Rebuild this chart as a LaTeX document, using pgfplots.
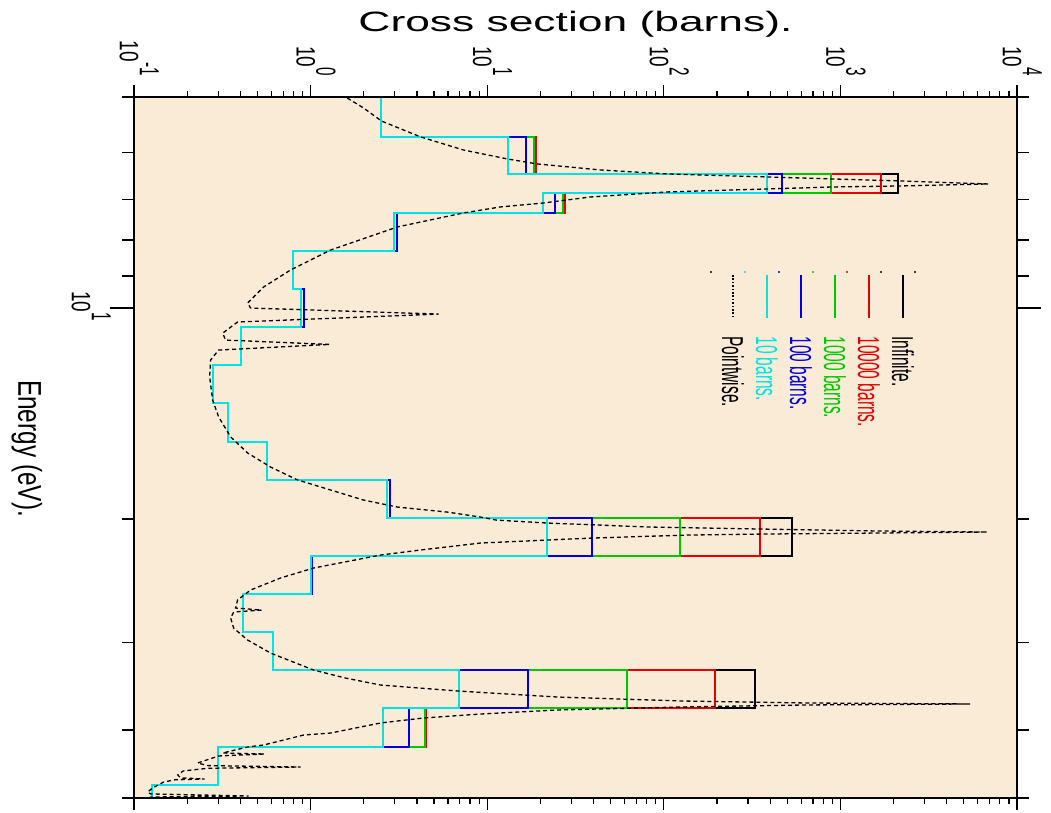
\documentclass[border=0pt]{standalone}
\usepackage{pgfplots}
\pgfplotsset{compat=1.18}
\usepackage{pgfplotstable}
\usepackage{graphicx}
\usepackage{fontspec}
\setmainfont{Liberation Sans}

\definecolor{bg}{RGB}{250,235,215}
\definecolor{ccyan}{RGB}{0,228,228}
\definecolor{cblue}{RGB}{0,0,225}
\definecolor{cgreen}{RGB}{0,200,0}
\definecolor{cred}{RGB}{230,0,0}

% multigroup steps: E (eV) and cross sections (barns) for 10, 100, 1000, 10000 barns and infinite dilution
\pgfplotstableread{
E      c      b      g      r      k
4.8    1.248  1.248  1.248  1.248  1.248
5.0    1.248  1.248  1.248  1.248  1.248
5.0    2.52   2.52   2.52   2.52   2.52
5.70   2.52   2.52   2.52   2.52   2.52
5.70   13.08  16.62  18.45  18.94  18.94
6.438  13.08  16.62  18.45  18.94  18.94
6.438  386    469    888    1704   2127
6.853  386    469    888    1704   2127
6.853  20.64  24.35  26.9   27.75  27.75
7.318  20.64  24.35  26.9   27.75  27.75
7.318  2.95   3.10   3.10   3.10   3.10
8.292  2.95   3.10   3.10   3.10   3.10
8.292  0.80   0.80   0.80   0.80   0.80
9.395  0.80   0.80   0.80   0.80   0.80
9.395  0.88   0.915  0.915  0.915  0.915
10.645 0.88   0.915  0.915  0.915  0.915
10.645 0.402  0.402  0.402  0.402  0.402
12.06  0.402  0.402  0.402  0.402  0.402
12.06  0.279  0.279  0.279  0.279  0.279
13.66  0.279  0.279  0.279  0.279  0.279
13.66  0.339  0.339  0.339  0.339  0.339
15.53  0.339  0.339  0.339  0.339  0.339
15.53  0.564  0.564  0.564  0.564  0.564
17.59  0.564  0.564  0.564  0.564  0.564
17.59  2.72   2.80   2.80   2.80   2.80
19.93  2.72   2.80   2.80   2.80   2.80
19.93  21.7   39.4   124    352    534
22.58  21.7   39.4   124    352    534
22.58  1.00   1.022  1.022  1.022  1.022
25.58  1.00   1.022  1.022  1.022  1.022
25.58  0.412  0.412  0.412  0.412  0.412
28.99  0.412  0.412  0.412  0.412  0.412
28.99  0.609  0.609  0.609  0.609  0.609
32.84  0.609  0.609  0.609  0.609  0.609
32.84  6.88   17.1   62.2   196    330
37.21  6.88   17.1   62.2   196    330
37.21  2.56   3.59   4.42   4.53   4.53
42.29  2.56   3.59   4.42   4.53   4.53
42.29  0.298  0.298  0.298  0.298  0.298
47.91  0.298  0.298  0.298  0.298  0.298
47.91  0.126  0.126  0.126  0.126  0.126
51.0   0.126  0.126  0.126  0.126  0.126
}\steps

% pointwise cross section
\pgfplotstableread{
s      E
1.50   4.95
1.578  5.000
1.994  5.183
2.522  5.411
4.194  5.700
7.343  5.951
13.03  6.129
19.26  6.230
43.78  6.354
104.8  6.438
385.8  6.502
911.6  6.545
2183   6.588
6871   6.653
2183   6.697
911.6  6.719
385.8  6.763
104.8  6.830
38.42  6.944
20.83  7.082
11.89  7.175
7.343  7.318
3.107  7.662
1.298  8.265
0.770  8.826
0.542  9.333
0.440  9.835
0.4575 10.00
5.302  10.20
0.386  10.47
0.3177 10.86
0.3304 11.11
1.281  11.27
0.3015 11.48
0.2716 11.86
0.2682 12.54
0.2789 13.53
0.3015 14.30
0.3526 15.27
0.440  16.10
0.5937 16.86
0.8443 17.59
1.298  18.18
1.994  18.79
3.107  19.23
5.962  19.55
9.165  19.87
11.29  20.07
21.65  20.26
81.79  20.53
366.2  20.67
1617   20.80
6781   20.87
1617   20.94
366.2  21.01
136.0  21.08
38.93  21.29
21.65  21.43
9.165  21.64
4.194  22.14
2.490  22.51
1.040  23.49
0.6766 24.27
0.4575 25.25
0.386  26.09
0.376  26.79
0.528  26.97
0.367  27.14
0.3526 27.68
0.3666 28.61
0.440  29.76
0.5937 31.06
1.040  32.84
1.578  33.72
2.490  34.50
6.879  35.19
24.99  35.89
127.4  36.36
641.3  36.60
5434   36.72
641.3  36.84
127.4  37.08
24.99  37.45
9.165  37.95
4.360  38.45
2.490  39.08
1.298  40.39
0.9128 40.66
0.542  42.01
0.440  42.29
0.3177 43.13
0.5491 43.27
0.3015 43.55
0.2293 44.57
0.2613 44.95
0.8778 45.16
0.2613 45.35
0.190  45.75
0.1768 46.36
0.1838 46.80
0.2513 46.97
0.170  47.10
0.1473 47.44
0.1276 48.38
0.1195 49.02
0.1243 49.34
0.4458 49.67
0.1243 49.84
0.1164 50.33
}\pointwise

\newcommand{\tp}[1]{10\raisebox{7.1pt}{\scalebox{1}[1.3]{\fontsize{7.6}{8}\selectfont #1}}}
\newcommand{\tlab}[1]{\scalebox{1}[1.4]{\fontsize{9.5}{10}\selectfont\tp{#1}}}
\newcommand{\leg}[2]{\scalebox{1}[1.95]{\fontsize{7.75}{8}\selectfont\color{#1}#2}}

\begin{document}
\begin{tikzpicture}
\useasboundingbox (-287.75pt,-182.75pt) rectangle (237.75pt,223.75pt);
\begin{axis}[
  at={(0pt,0pt)}, anchor=center,
  scale only axis, width=441.5pt, height=350.5pt,
  xmode=log, ymode=log,
  xmin=0.1, xmax=10000, ymin=5, ymax=50,
  y dir=reverse,
  axis background/.style={fill=bg},
  axis line style={draw=none},
  xtick={0.1,1,10,100,1000,10000},
  minor xtick={0.2,0.3,0.4,0.5,0.6,0.7,0.8,0.9,2,3,4,5,6,7,8,9,20,30,40,50,60,70,80,90,200,300,400,500,600,700,800,900,2000,3000,4000,5000,6000,7000,8000,9000},
  xticklabels={},
  ytick=\empty,
  tick align=outside,
  major tick length=6pt, minor tick length=3pt,
  tick style={black, line width=0.6pt},
  clip mode=individual,
]
\addplot[black, line width=1pt] table[x=k, y=E] {\steps};
\addplot[cred, line width=1pt] table[x=r, y=E] {\steps};
\addplot[cgreen, line width=1pt] table[x=g, y=E] {\steps};
\addplot[cblue, line width=1pt] table[x=b, y=E] {\steps};
\addplot[ccyan, line width=1pt] table[x=c, y=E] {\steps};
\addplot[black, line width=0.65pt, dash pattern=on 2pt off 1.5pt] table[x=s, y=E] {\pointwise};
\end{axis}

% frame
\draw[line width=0.6pt] (-220.75pt,175.25pt) -- (220.75pt,175.25pt);
\draw[line width=1.4pt] (-220.75pt,175.25pt) -- (-220.75pt,-175.25pt) -- (220.75pt,-175.25pt) -- (220.75pt,175.25pt);

% energy ticks (left and right)
\foreach \e in {5,6,7,8,9,20,30,40,50} {
  \pgfmathsetmacro{\yy}{175.25-350.5*log10(\e/5)}
  \draw[line width=0.6pt] (-220.75pt,\yy pt) -- ++(-6pt,0pt);
  \draw[line width=0.6pt] (220.75pt,\yy pt) -- ++(6pt,0pt);
}
\pgfmathsetmacro{\yt}{175.25-350.5*log10(2)}
\draw[line width=0.6pt] (-220.75pt,\yt pt) -- ++(-12pt,0pt);
\draw[line width=0.6pt] (220.75pt,\yt pt) -- ++(12pt,0pt);

% tick labels
\node[rotate=-90, anchor=base east, inner sep=0pt] at (-227.75pt,185.75pt) {\tlab{-1}};
\node[rotate=-90, anchor=base east, inner sep=0pt] at (-139.45pt,185.75pt) {\tlab{0}};
\node[rotate=-90, anchor=base east, inner sep=0pt] at (-51.15pt,185.75pt) {\tlab{1}};
\node[rotate=-90, anchor=base east, inner sep=0pt] at (37.15pt,185.75pt) {\tlab{2}};
\node[rotate=-90, anchor=base east, inner sep=0pt] at (125.45pt,185.75pt) {\tlab{3}};
\node[rotate=-90, anchor=base east, inner sep=0pt] at (213.75pt,185.75pt) {\tlab{4}};
\node[rotate=-90, anchor=base, inner sep=0pt] at (-251.75pt,70.75pt) {\tlab{1}};

% axis titles
\node[anchor=base, inner sep=0pt] at (0pt,207.75pt) {\scalebox{1.585}[1]{\fontsize{14}{16}\selectfont Cross section (barns).}};
\node[rotate=-90, anchor=center, inner sep=0pt] at (-274.25pt,-0.5pt) {\scalebox{1}[1.35]{\fontsize{12.2}{14}\selectfont Energy (eV).}};

% legend
\draw[black, line width=1pt] (163.75pt,86.25pt) -- (163.75pt,64.75pt);
\draw[cred, line width=1pt] (146.75pt,86.25pt) -- (146.75pt,64.75pt);
\draw[cgreen, line width=1pt] (129.75pt,86.25pt) -- (129.75pt,64.75pt);
\draw[cblue, line width=1pt] (112.75pt,86.25pt) -- (112.75pt,64.75pt);
\draw[ccyan, line width=1pt] (95.75pt,86.25pt) -- (95.75pt,64.75pt);
\draw[black, line width=0.65pt, dash pattern=on 0.8pt off 0.9pt] (78.75pt,86.25pt) -- (78.75pt,64.75pt);
\foreach \xx/\cc in {67.75/black,84.75/ccyan,101.75/cblue,118.75/cgreen,135.75/cred,152.75/black,169.75/black}
  \fill[\cc] (\xx pt,87.75pt) circle (0.55pt);
\node[rotate=-90, anchor=west, inner sep=0pt] at (163.75pt,55.75pt) {\leg{black}{Infinite.}};
\node[rotate=-90, anchor=west, inner sep=0pt] at (146.75pt,55.75pt) {\leg{cred}{10000 barns.}};
\node[rotate=-90, anchor=west, inner sep=0pt] at (129.75pt,55.75pt) {\leg{cgreen}{1000 barns.}};
\node[rotate=-90, anchor=west, inner sep=0pt] at (112.75pt,55.75pt) {\leg{cblue}{100 barns.}};
\node[rotate=-90, anchor=west, inner sep=0pt] at (95.75pt,55.75pt) {\leg{ccyan}{10 barns.}};
\node[rotate=-90, anchor=west, inner sep=0pt] at (78.75pt,55.75pt) {\leg{black}{Pointwise.}};
\end{tikzpicture}
\end{document}
